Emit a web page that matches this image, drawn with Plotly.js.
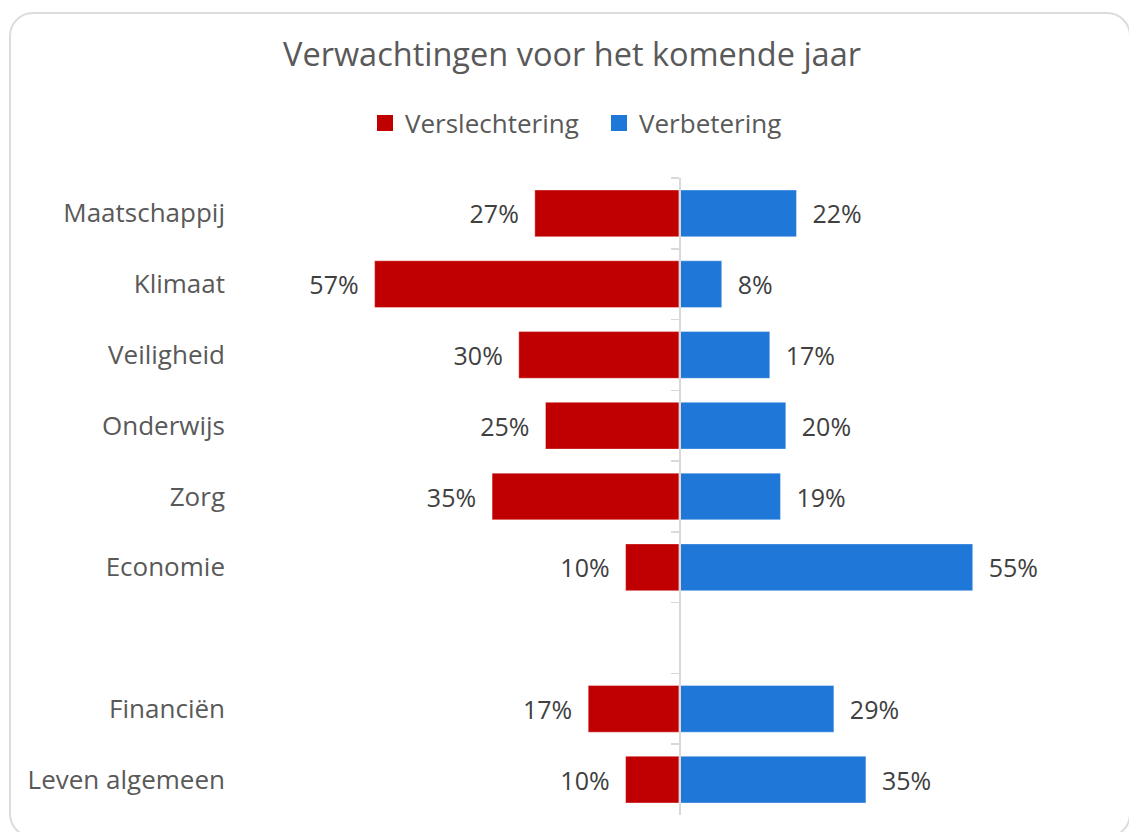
<!DOCTYPE html>
<html>
<head>
<meta charset="utf-8">
<script src="https://cdn.plot.ly/plotly-3.0.1.min.js"></script>
<style>
  html, body { margin: 0; padding: 0; background: #ffffff; }
  #chart { position: absolute; left: 0; top: 0; width: 1129px; height: 832px; }
  #frame { position: absolute; left: 9px; top: 12px; width: 1122px; height: 826px;
           border: 2px solid #dcdcdc; border-radius: 24px; box-sizing: border-box;
           pointer-events: none; }
</style>
</head>
<body>
<div id="chart"></div>
<div id="frame"></div>
<script>
// ---- data ----
var categories = ["Maatschappij", "Klimaat", "Veiligheid", "Onderwijs", "Zorg", "Economie", " ", "Financiën", "Leven algemeen"];
var worse  = [27, 57, 30, 25, 35, 10, null, 17, 10];   // Verslechtering (%)
var better = [22,  8, 17, 20, 19, 55, null, 29, 35];   // Verbetering (%)
var seriesNames = ["Verslechtering", "Verbetering"];
var seriesColors = ["#C00000", "#1F78D8"];
var titleText = "Verwachtingen voor het komende jaar";

// ---- layout constants ----
var W = 1129, H = 832;
var plotLeft = 232, plotRight = 1060, zeroPx = 679, pxPerUnit = 5.34;
var xMin = -(zeroPx - plotLeft) / pxPerUnit;
var xMax = (plotRight - zeroPx) / pxPerUnit;
var font = "Open Sans, sans-serif";
var sp = "\u00a0\u00a0";

function negate(v) { return v === null ? null : -v; }
function labelLeft(v) { return v === null ? "" : v + "%" + sp; }
function labelRight(v) { return v === null ? "" : sp + v + "%"; }

var redTrace = {
  type: "bar", orientation: "h", name: seriesNames[0], showlegend: false,
  y: categories,
  x: worse.map(negate),
  text: worse.map(labelLeft),
  texttemplate: "%{text}",
  textposition: "outside",
  cliponaxis: false,
  textfont: { family: font, size: 25, color: "#404040" },
  marker: { color: seriesColors[0], line: { color: "rgba(255,255,255,0.35)", width: 1 } },
  xaxis: "x", yaxis: "y",
  hoverinfo: "skip"
};
var blueTrace = {
  type: "bar", orientation: "h", name: seriesNames[1], showlegend: false,
  y: categories,
  x: better,
  text: better.map(labelRight),
  texttemplate: "%{text}",
  textposition: "outside",
  cliponaxis: false,
  textfont: { family: font, size: 25, color: "#404040" },
  marker: { color: seriesColors[1], line: { color: "rgba(255,255,255,0.35)", width: 1 } },
  xaxis: "x", yaxis: "y2",
  hoverinfo: "skip"
};

// legend-only entries (square keys like the reference)
function legendEntry(i) {
  return {
    type: "scatter", mode: "markers", name: seriesNames[i],
    x: [null], y: [null], xaxis: "x", yaxis: "y",
    marker: { symbol: "square", size: 17, color: seriesColors[i] },
    hoverinfo: "skip"
  };
}

function catAxis(extra) {
  var a = {
    type: "category",
    categoryorder: "array",
    categoryarray: categories,
    range: [categories.length - 0.5, -0.5],
    fixedrange: true,
    showgrid: false,
    zeroline: false
  };
  for (var k in extra) { a[k] = extra[k]; }
  return a;
}

var layout = {
  width: W, height: H,
  paper_bgcolor: "rgba(0,0,0,0)",
  plot_bgcolor: "rgba(0,0,0,0)",
  margin: { l: plotLeft, r: W - plotRight, t: 178, b: H - 815, pad: 0 },
  font: { family: font, color: "#595959" },
  title: {
    text: titleText,
    font: { family: font, size: 32.5, color: "#595959" },
    x: 572 / W, xref: "container", xanchor: "center",
    y: 1 - 55 / H, yref: "container", yanchor: "middle"
  },
  showlegend: true,
  legend: {
    orientation: "h",
    x: 365 / W, xref: "container", xanchor: "left",
    y: 1 - 123 / H, yref: "container", yanchor: "middle",
    font: { family: font, size: 26, color: "#595959" },
    traceorder: "normal",
    itemwidth: 30,
    entrywidth: 189, entrywidthmode: "pixels"
  },
  bargap: 0.34,
  xaxis: {
    range: [xMin, xMax],
    showgrid: false, zeroline: false, showline: false,
    showticklabels: false, ticks: "", fixedrange: true
  },
  yaxis: catAxis({
    showline: false,
    ticks: "", ticklabelstandoff: 6,
    tickfont: { family: font, size: 26, color: "#595959" }
  }),
  yaxis2: catAxis({
    overlaying: "y", anchor: "free",
    position: (zeroPx - plotLeft) / (plotRight - plotLeft),
    side: "left",
    showline: true, linecolor: "#d9d9d9", linewidth: 1.5,
    ticks: "outside", ticklen: 8, tickwidth: 1.5, tickcolor: "#d9d9d9",
    tickson: "boundaries",
    showticklabels: false
  })
};

Plotly.newPlot("chart", [redTrace, blueTrace, legendEntry(0), legendEntry(1)], layout, { displayModeBar: false, staticPlot: true });
</script>
</body>
</html>
